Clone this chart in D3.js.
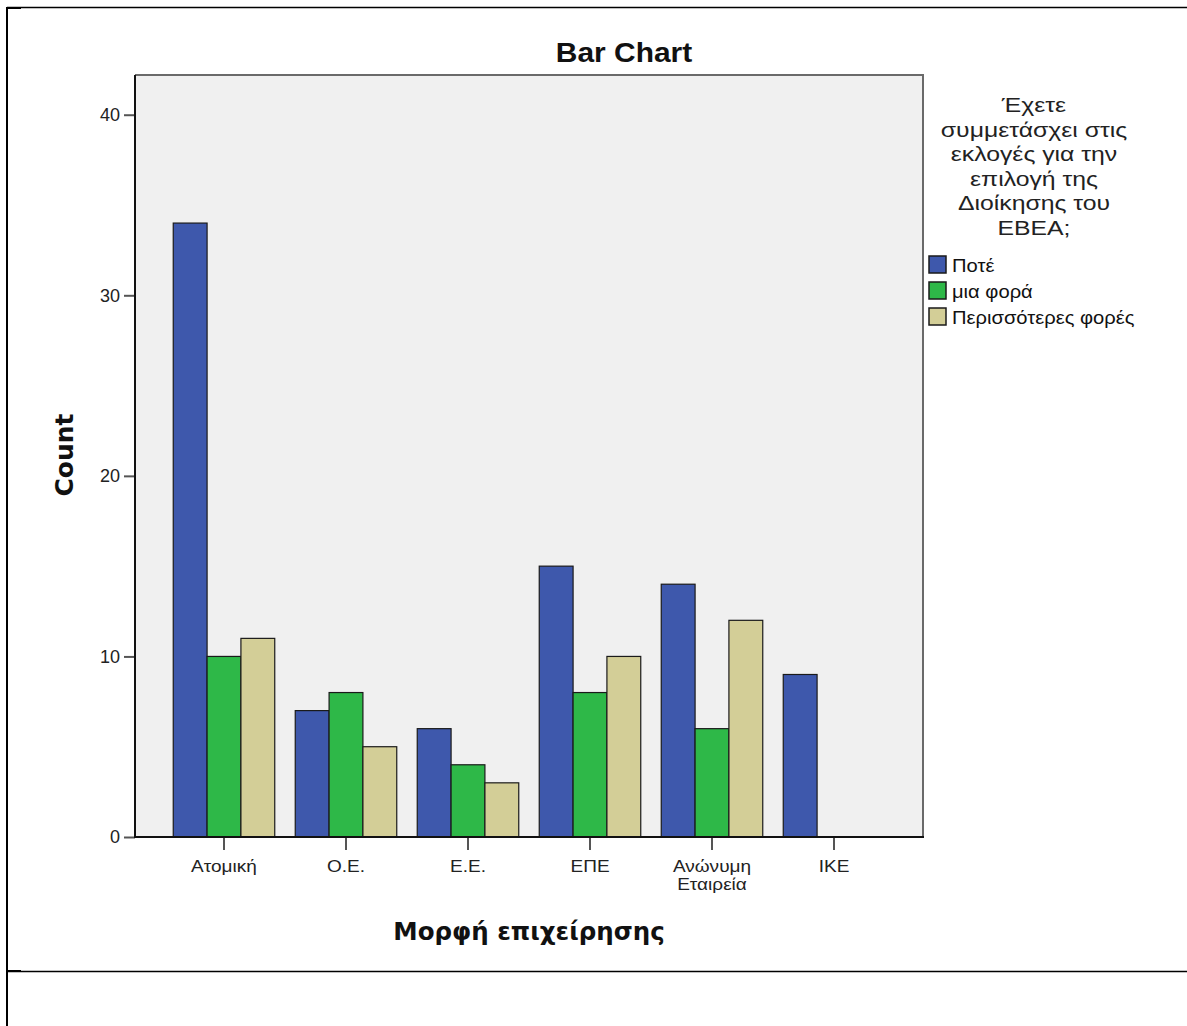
<!DOCTYPE html>
<html>
<head>
<meta charset="utf-8">
<script src="https://cdn.jsdelivr.net/npm/d3@7"></script>
<style>
html,body{margin:0;padding:0;background:#fff;}
svg{display:block;}
</style>
</head>
<body>
<svg id="chart" width="1187" height="1026"></svg>
<script>
const categories = ["Ατομική", "Ο.Ε.", "Ε.Ε.", "ΕΠΕ", "Ανώνυμη Εταιρεία", "ΙΚΕ"];
const categoryLines = [["Ατομική"], ["Ο.Ε."], ["Ε.Ε."], ["ΕΠΕ"], ["Ανώνυμη", "Εταιρεία"], ["ΙΚΕ"]];
const seriesNames = ["Ποτέ", "μια φορά", "Περισσότερες φορές"];
const seriesColors = ["#3e58ac", "#2eb848", "#d3ce97"];
const valuesPote = [34, 7, 6, 15, 14, 9];
const valuesMia = [10, 8, 4, 8, 6, 0];
const valuesPerissoteres = [11, 5, 3, 10, 12, 0];
const yTicks = [0, 10, 20, 30, 40];
const legendTitleLines = ["Έχετε", "συμμετάσχει στις", "εκλογές για την", "επιλογή της", "Διοίκησης του", "ΕΒΕΑ;"];
const chartTitle = "Bar Chart";
const xTitle = "Μορφή επιχείρησης";
const yTitle = "Count";

const seriesValues = [valuesPote, valuesMia, valuesPerissoteres];

const svg = d3.select("#chart");
const L = 135, R = 923, T = 75, B = 837;
const SANS = "Liberation Sans, Arial, sans-serif";

function scaledText(parent, px, py, sx, anchor, size, txt, opts) {
  const g = parent.append("g").attr("transform", `translate(${px},${py}) scale(${sx},1)`);
  const t = g.append("text").attr("x", 0).attr("y", 0).attr("text-anchor", anchor)
    .attr("font-family", (opts && opts.family) || SANS).attr("font-size", size)
    .attr("fill", (opts && opts.fill) || "#222").text(txt);
  if (opts && opts.bold) t.attr("font-weight", "bold");
  return t;
}

// page frame lines
svg.append("line").attr("x1", 7).attr("x2", 1187).attr("y1", 7.5).attr("y2", 7.5).attr("stroke", "#000").attr("stroke-width", 1.5);
svg.append("line").attr("x1", 7).attr("x2", 7).attr("y1", 7).attr("y2", 1026).attr("stroke", "#000").attr("stroke-width", 2);
svg.append("line").attr("x1", 6).attr("x2", 21).attr("y1", 8).attr("y2", 8).attr("stroke", "#000").attr("stroke-width", 2);
svg.append("line").attr("x1", 7).attr("x2", 1187).attr("y1", 971.5).attr("y2", 971.5).attr("stroke", "#000").attr("stroke-width", 1.5);
svg.append("line").attr("x1", 6).attr("x2", 21).attr("y1", 971).attr("y2", 971).attr("stroke", "#000").attr("stroke-width", 2);

const x = d3.scaleBand().domain(categories).range([L, R]).paddingInner(0.168).paddingOuter(0.3135);
const xs = d3.scaleBand().domain(seriesNames).range([0, x.bandwidth()]);
const y = d3.scaleLinear().domain([0, 42.2]).range([B, T]);

// plot background
svg.append("rect").attr("x", L).attr("y", T).attr("width", R - L).attr("height", B - T).attr("fill", "#f0f0f0");

// bars
const g = svg.append("g");
categories.forEach((c, i) => {
  seriesNames.forEach((s, j) => {
    const v = seriesValues[j][i];
    if (v <= 0) return;
    g.append("rect")
      .attr("x", x(c) + xs(s))
      .attr("y", y(v))
      .attr("width", xs.bandwidth())
      .attr("height", y(0) - y(v))
      .attr("fill", seriesColors[j])
      .attr("stroke", "#1a1a1a")
      .attr("stroke-width", 1.2);
  });
});

// frame top/right gray
svg.append("line").attr("x1", L).attr("x2", R + 1).attr("y1", T).attr("y2", T).attr("stroke", "#6a6a6a").attr("stroke-width", 2);
svg.append("line").attr("x1", R).attr("x2", R).attr("y1", T).attr("y2", B).attr("stroke", "#6a6a6a").attr("stroke-width", 2);

// y axis
const yAxis = d3.axisLeft(y).tickValues(yTicks).tickSize(11).tickPadding(4).tickFormat(d3.format("d"));
const ya = svg.append("g").attr("transform", `translate(${L},0)`).call(yAxis);
ya.select(".domain").remove();
ya.selectAll(".tick line").attr("stroke", "#555").attr("stroke-width", 2);
ya.selectAll(".tick text").attr("font-family", SANS).attr("font-size", 18).attr("fill", "#222");
svg.append("line").attr("x1", L).attr("x2", L).attr("y1", T).attr("y2", B + 1).attr("stroke", "#111").attr("stroke-width", 2);

// x axis
const xAxis = d3.axisBottom(x).tickSize(13).tickFormat("");
const xa = svg.append("g").attr("transform", `translate(0,${B})`).call(xAxis);
xa.select(".domain").remove();
xa.selectAll(".tick line").attr("stroke", "#555").attr("stroke-width", 2);
svg.append("line").attr("x1", L - 1).attr("x2", R + 1).attr("y1", B).attr("y2", B).attr("stroke", "#111").attr("stroke-width", 2);

categories.forEach((c, i) => {
  categoryLines[i].forEach((ln, k) => {
    scaledText(svg, x(c) + x.bandwidth() / 2, 872 + k * 18, 1.12, "middle", 17, ln);
  });
});

// titles
scaledText(svg, 624, 62, 1.07, "middle", 28, chartTitle, { bold: true, fill: "#111" });
svg.append("text").attr("x", 529).attr("y", 940).attr("text-anchor", "middle")
  .attr("font-family", "DejaVu Sans, sans-serif").attr("font-weight", "bold").attr("font-size", 24.5).attr("fill", "#111").text(xTitle);
svg.append("text").attr("transform", "translate(73,455) rotate(-90)").attr("text-anchor", "middle")
  .attr("font-family", "DejaVu Sans, sans-serif").attr("font-weight", "bold").attr("font-size", 25).attr("fill", "#111").text(yTitle);

// legend
legendTitleLines.forEach((ln, i) => {
  scaledText(svg, 1034, 112 + i * 24.5, 1.18, "middle", 21, ln);
});
seriesNames.forEach((s, j) => {
  const yy = 256 + j * 26;
  svg.append("rect").attr("x", 929).attr("y", yy).attr("width", 17).attr("height", 17)
    .attr("fill", seriesColors[j]).attr("stroke", "#1a1a1a").attr("stroke-width", 1.5);
  scaledText(svg, 952, yy + 16, 1.12, "start", 18, s, { fill: "#111" });
});
</script>
</body>
</html>
